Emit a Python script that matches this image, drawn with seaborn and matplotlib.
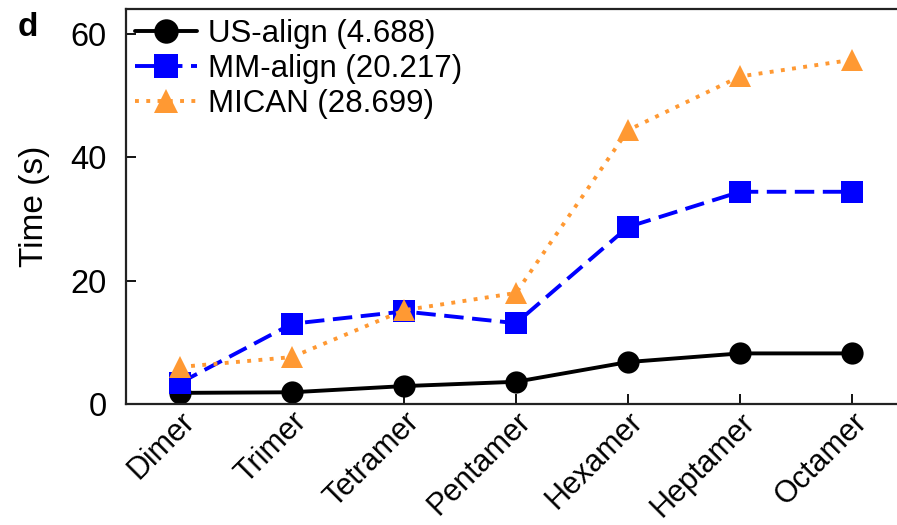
import matplotlib
matplotlib.use("Agg")
import matplotlib.pyplot as plt
import matplotlib.transforms as mtransforms
import seaborn as sns
import pandas as pd

categories = ["Dimer", "Trimer", "Tetramer", "Pentamer", "Hexamer", "Heptamer", "Octamer"]
us_align = [1.8, 1.9, 2.9, 3.6, 6.8, 8.2, 8.2]
mm_align = [3.4, 13.0, 15.0, 13.1, 28.7, 34.4, 34.4]
mican = [6.0, 7.6, 15.2, 18.0, 44.4, 53.1, 55.8]
labels = ["US-align (4.688)", "MM-align (20.217)", "MICAN (28.699)"]

sns.set_style("ticks")
plt.rcParams["font.family"] = ["Liberation Sans", "DejaVu Sans"]
plt.rcParams["text.color"] = "black"
plt.rcParams["axes.labelcolor"] = "black"
plt.rcParams["xtick.color"] = "black"
plt.rcParams["ytick.color"] = "black"

fig = plt.figure(figsize=(8.97, 5.25), dpi=100)
ax = fig.add_axes([0.1405, 0.2305, 0.872, 0.752])

series = [
    (us_align, labels[0], "black", "o", None),
    (mm_align, labels[1], "#0000FF", "s", (5.0, 2.2)),
    (mican, labels[2], "#FF9933", "^", (1.0, 1.9)),
]
x = list(range(len(categories)))
for vals, lab, col, mk, dash in series:
    df = pd.DataFrame({"x": x, "y": vals})
    sns.lineplot(data=df, x="x", y="y", ax=ax, color=col, marker=mk,
                 markersize=16, markeredgewidth=0, linewidth=2.8, label=lab)
    line = ax.get_lines()[-1]
    if dash is not None:
        line.set_dashes(dash)

ax.set_xlim(-0.48, 6.5)
ax.set_ylim(0, 64)
ax.set_xticks(x)
ax.set_xticklabels(categories, rotation=45, ha="right", va="top",
                   rotation_mode="anchor", fontsize=22)
offset = mtransforms.ScaledTranslation(9 / 100, 0, fig.dpi_scale_trans)
for lbl in ax.get_xticklabels():
    lbl.set_transform(lbl.get_transform() + offset)
ax.set_yticks([0, 20, 40, 60])
ax.tick_params(axis="y", direction="in", length=7, width=1.3, labelsize=23.5, pad=14, color="black")
ax.tick_params(axis="x", direction="in", length=7, width=1.3, labelsize=22, pad=2, color="black")
for s in ax.spines.values():
    s.set_linewidth(1.6)
    s.set_color("#222222")
ax.set_xlabel("")
ax.set_ylabel("Time (s)", fontsize=24)
ax.yaxis.set_label_coords(-0.097, 0.5)

leg = ax.legend(loc="upper left", bbox_to_anchor=(-0.005, 1.007), frameon=False,
                fontsize=22.5, handlelength=2.0, handletextpad=0.35, labelspacing=0.16,
                borderaxespad=0, markerscale=1.1)

fig.text(0.02, 0.977, "d", fontsize=24, fontweight="bold", va="top", ha="left")

fig.savefig("out.png", dpi=100)
